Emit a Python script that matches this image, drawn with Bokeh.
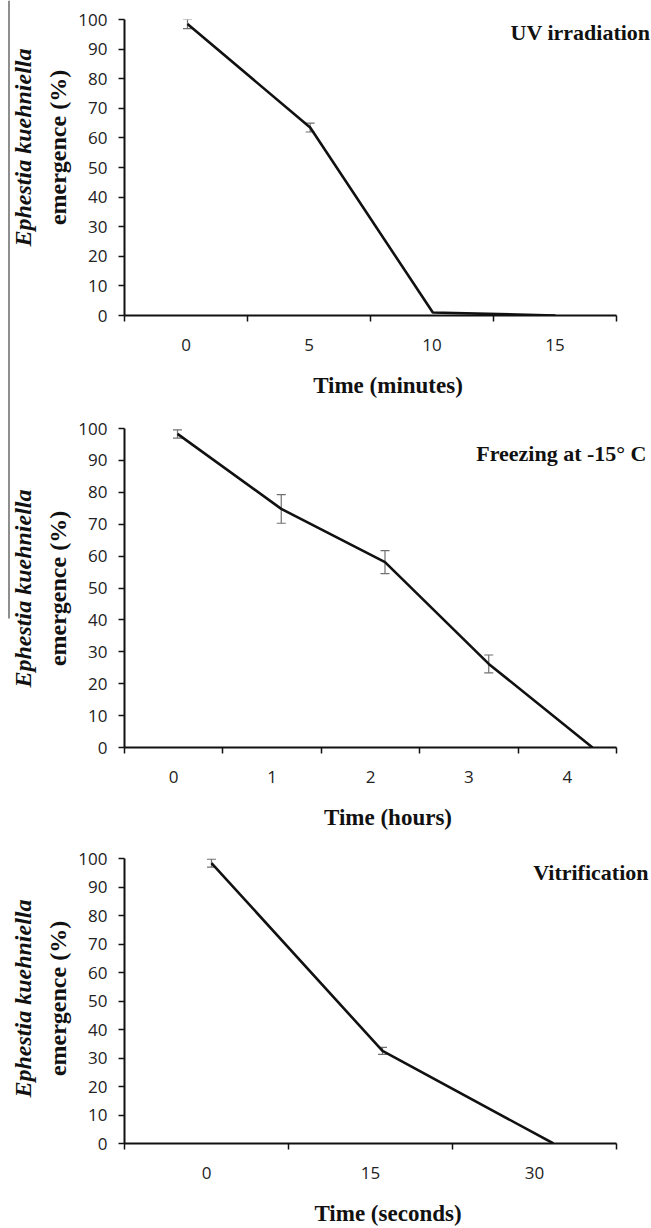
from bokeh.plotting import figure
from bokeh.models import Range1d, FixedTicker, Label, Whisker, ColumnDataSource, TeeHead
from bokeh.layouts import column, row
from bokeh.embed import file_html
from bokeh.resources import INLINE
import math

# ---- data ----
uv_time = ["0", "5", "10", "15"]
uv_emergence = [98.5, 63.5, 1.0, 0.0]
uv_err = [1.6, 1.5, 0.0, 0.0]

frz_time = ["0", "1", "2", "3", "4"]
frz_emergence = [98.3, 74.8, 58.1, 26.2, 0.0]
frz_err = [1.3, 4.5, 3.6, 2.8, 0.0]

vit_time = ["0", "15", "30"]
vit_emergence = [98.4, 32.5, 0.0]
vit_err = [1.4, 1.2, 0.0]

y_ticks = [0, 10, 20, 30, 40, 50, 60, 70, 80, 90, 100]
ylabel_1 = "Ephestia kuehniella"
ylabel_2 = "emergence (%)"

SERIF = "Liberation Serif"
SANS = "Open Sans"
INK = "#111111"
PAGE_W = 651
PAGE_H = 1228
LAB_W = 75
AX_L = 124      # page x of y axis
AX_R = 616      # page x of end of x axis


def panel(cats, vals, errs, xtitle, note, height, top, bottom,
          note_px, note_py, data_px):
    n = len(cats)
    idx = list(range(n))
    main_w = PAGE_W - LAB_W
    u = (AX_R - AX_L) / n                    # px per category
    frame_w = PAGE_W - AX_L
    p = figure(width=main_w, height=height,
               x_range=Range1d(-0.5, -0.5 + frame_w / u), y_range=Range1d(0, 100),
               output_backend="svg", toolbar_location=None,
               min_border_left=AX_L - LAB_W, min_border_right=0,
               min_border_top=top, min_border_bottom=bottom)
    p.grid.visible = False
    p.outline_line_color = None

    frame_h = height - top - bottom
    px_y = frame_h / 100.0

    def dx(page_x):
        return -0.5 + (page_x - AX_L) / u

    def dy(page_off):
        return 100 - page_off / px_y

    f_px, l_px = data_px
    ud = (l_px - f_px) / (n - 1)
    p.extra_x_ranges = {"data": Range1d(-(f_px - AX_L) / ud,
                                        (n - 1) + (PAGE_W - l_px) / ud)}

    xa = p.xaxis[0]
    xa.bounds = (-0.5, n - 0.5)
    xa.ticker = FixedTicker(ticks=idx, minor_ticks=[i - 0.5 for i in range(n + 1)])
    xa.major_label_overrides = {i: c for i, c in enumerate(cats)}
    xa.major_tick_line_color = None
    xa.major_tick_out = 6
    xa.major_tick_in = 0
    xa.minor_tick_out = 6
    xa.minor_tick_in = 0
    xa.minor_tick_line_color = INK
    xa.minor_tick_line_width = 1.5
    xa.axis_line_color = INK
    xa.axis_line_width = 2
    xa.major_label_text_font = SANS
    xa.major_label_text_font_size = "17px"
    xa.major_label_text_color = "#222222"
    xa.major_label_standoff = 17
    xa.axis_label = xtitle
    xa.axis_label_text_font = SERIF
    xa.axis_label_text_font_style = "bold"
    xa.axis_label_text_font_size = "23px"
    xa.axis_label_text_color = INK
    xa.axis_label_standoff = 19

    ya = p.yaxis[0]
    ya.ticker = FixedTicker(ticks=y_ticks)
    ya.minor_tick_line_color = None
    ya.major_tick_out = 6
    ya.major_tick_in = 0
    ya.major_tick_line_color = INK
    ya.major_tick_line_width = 1.5
    ya.axis_line_color = INK
    ya.axis_line_width = 2
    ya.major_label_text_font = SANS
    ya.major_label_text_font_size = "17px"
    ya.major_label_text_color = "#222222"
    ya.major_label_standoff = 11

    src = ColumnDataSource(dict(x=idx, y=vals))
    p.line("x", "y", source=src, line_color=INK, line_width=2.6,
           x_range_name="data")

    ex = [i for i, e in zip(idx, errs) if e > 0]
    ev = [v for v, e in zip(vals, errs) if e > 0]
    ee = [e for e in errs if e > 0]
    esrc = ColumnDataSource(dict(x=ex, lo=[v - e for v, e in zip(ev, ee)],
                                 hi=[v + e for v, e in zip(ev, ee)]))
    w = Whisker(source=esrc, base="x", lower="lo", upper="hi",
                line_color="#707070", line_width=1.2, x_range_name="data",
                upper_head=TeeHead(size=9, line_color="#707070", line_width=1.2),
                lower_head=TeeHead(size=9, line_color="#707070", line_width=1.2))
    p.add_layout(w)

    p.add_layout(Label(x=dx(note_px), y=dy(note_py), text=note,
                       text_font=SERIF, text_font_style="bold",
                       text_font_size="22px", text_color=INK,
                       text_align="right", text_baseline="middle"))
    return p


# panel 1: page y 0..402, frame 19..315
p1 = panel(uv_time, uv_emergence, uv_err, "Time (minutes)", "UV irradiation",
           402, 19, 87, 650, 32 - 19, (187, 555))
# panel 2: page y 402..834, frame 428..747
p2 = panel(frz_time, frz_emergence, frz_err, "Time (hours)", "Freezing at -15° C",
           432, 26, 87, 646, 453 - 428, (177, 592))
# panel 3: page y 834..1228, frame 858..1145
p3 = panel(vit_time, vit_emergence, vit_err, "Time (seconds)", "Vitrification",
           394, 24, 83, 648, 872 - 858, (211, 553))

# ---- label strip on the left (page pixel coordinates, y measured upward) ----
lab = figure(width=LAB_W, height=PAGE_H,
             x_range=Range1d(0, LAB_W), y_range=Range1d(0, PAGE_H),
             x_axis_type=None, y_axis_type=None,
             output_backend="svg", toolbar_location=None, min_border=0)
lab.grid.visible = False
lab.outline_line_color = None
for page_y in (147, 588, 998):
    yc = PAGE_H - page_y
    lab.add_layout(Label(x=22, y=yc, text=ylabel_1, angle=math.pi / 2,
                         text_font=SERIF, text_font_style="bold italic",
                         text_font_size="24px", text_color=INK,
                         text_align="center", text_baseline="middle"))
    lab.add_layout(Label(x=57, y=yc, text=ylabel_2, angle=math.pi / 2,
                         text_font=SERIF, text_font_style="bold",
                         text_font_size="24px", text_color=INK,
                         text_align="center", text_baseline="middle"))
# thin scan border line at the far left of the source figure
lab.segment(x0=[8.5], y0=[PAGE_H], x1=[8.5], y1=[PAGE_H - 618],
            line_color="#444444", line_width=1.2)

layout = row(lab, column(p1, p2, p3, spacing=0), spacing=0)
open("out.html", "w").write(file_html(layout, INLINE))
